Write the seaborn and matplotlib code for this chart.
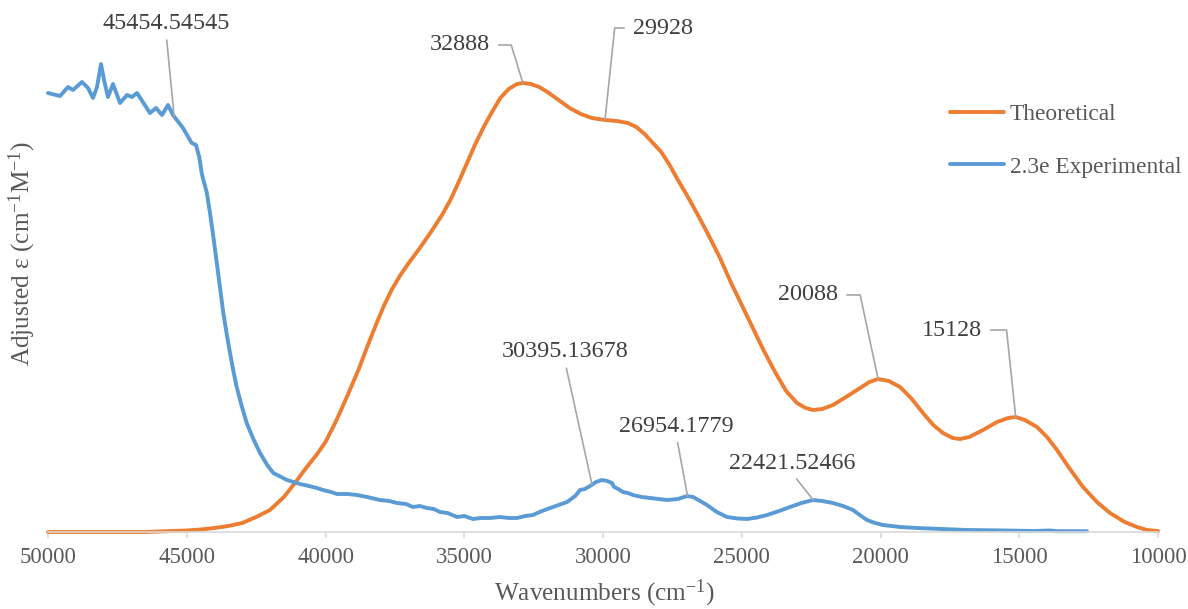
import numpy as np
import pandas as pd
import matplotlib
matplotlib.use("Agg")
import matplotlib.pyplot as plt
import seaborn as sns

# ---------------- data ----------------
theo_x = [50000, 48000, 46500, 45500, 45000, 44500, 44000, 43500, 43000, 42500,
          42000, 41500, 41100, 40700, 40300, 40000, 39600, 39200, 38800, 38500,
          38200, 37900, 37600, 37300, 37000, 36600, 36200, 35800, 35500, 35200,
          34900, 34600, 34300, 34000, 33700, 33400, 33100, 32888, 32600, 32300,
          32000, 31600, 31200, 30800, 30400, 29928, 29500, 29100, 28800, 28500,
          28200, 27900, 27600, 27300, 27000, 26600, 26200, 25800, 25400, 25000,
          24600, 24200, 23800, 23400, 23009, 22700, 22432, 22100, 21712, 21300,
          20847, 20400, 20088, 19700, 19297, 18900, 18468, 18100, 17748, 17400,
          17135, 16800, 16306, 15800, 15400, 15128, 14800, 14360, 14000, 13640,
          13200, 12703, 12200, 11730, 11200, 10757, 10400, 10000]
theo_y = [0, 0, 0, 1, 1.5, 2.5, 4, 6, 9, 15,
          22, 35, 49, 64, 78, 90, 112, 137, 163, 185,
          206, 226, 243, 257, 269, 284, 300, 317, 332, 350,
          369, 388, 405, 420, 434, 443, 448, 449, 448, 445,
          440, 432, 424, 418, 414, 412, 411, 409, 405, 398,
          389, 380, 367, 352, 338, 318, 297, 275, 250, 227,
          204, 181, 160, 141, 129, 124, 122, 123, 127, 134,
          142, 150, 153, 151, 145, 134, 119, 107, 99, 94,
          93, 95, 102, 110, 114, 115, 112, 105, 95, 82,
          64, 45, 30, 19, 10, 5, 2, 1]

exp_x = [50000, 49568, 49279, 49099, 48775, 48559, 48378, 48234, 48090, 47982,
         47838, 47658, 47405, 47153, 46973, 46793, 46324, 46108, 45892, 45676,
         45495, 45135, 44822, 44667, 44550, 44462, 44402, 44282, 44162, 44040,
         43922, 43800, 43682, 43560, 43441, 43320, 43201, 43020, 42840, 42600,
         42360, 42100, 41880, 41600, 41387, 41150, 40919, 40600, 40306, 40090,
         39800, 39586, 39200, 38865, 38500, 38036, 37700, 37423, 37100, 36847,
         36600, 36342, 36100, 35874, 35600, 35261, 35000, 34685, 34400, 34072,
         33712, 33400, 33099, 32800, 32523, 32200, 31910, 31600, 31297, 31000,
         30829, 30650, 30468, 30250, 30036, 29850, 29676, 29600, 29450, 29279,
         29100, 28919, 28600, 28306, 28000, 27694, 27300, 26973, 26757, 26500,
         26252, 25900, 25532, 25150, 24811, 24450, 24090, 23650, 23261, 22850,
         22432, 22100, 21712, 21350, 20991, 20700, 20486, 20200, 19910, 19600,
         19297, 18685, 17800, 16883, 15500, 14500, 13892, 13600, 12559]
exp_y = [439, 436, 445, 442, 450, 444, 434, 445, 468, 452,
         435, 448, 429, 437, 435, 439, 419, 424, 417, 427,
         417, 404, 389, 387, 375, 359, 352, 340, 319, 295,
         269, 244, 219, 198, 179, 161, 145, 126, 109, 93,
         79, 67, 59, 55, 52, 50, 48, 46, 44, 42,
         40, 38, 38, 37, 35, 32, 31, 29, 28, 25,
         26, 24, 23, 20, 19, 15, 16, 13, 14, 14,
         15, 14, 14, 16, 17, 21, 24, 27, 30, 36,
         42, 43, 46, 50, 52, 51, 49, 45, 43, 40,
         39, 37, 35, 34, 33, 32, 33, 36, 35, 31,
         27, 20, 15, 13.5, 13, 14.5, 17, 21, 25, 29,
         32, 31, 29, 26, 22, 16, 12, 9, 7, 6,
         5, 4, 3, 2, 1.5, 1, 1.5, 0.8, 0.8]

x_ticks = [50000, 45000, 40000, 35000, 30000, 25000, 20000, 15000, 10000]

theo_peaks = [32888, 29928, 20088, 15128]
theo_labels = ["32888", "29928", "20088", "15128"]
exp_peaks = [45454.54545, 30395.13678, 26954.1779, 22421.52466]
exp_labels = ["45454.54545", "30395.13678", "26954.1779", "22421.52466"]

# ---------------- style ----------------
sns.set_theme(style="white")
plt.rcParams["font.family"] = ["Liberation Serif", "DejaVu Serif"]
plt.rcParams["mathtext.fontset"] = "custom"
plt.rcParams["mathtext.rm"] = "Liberation Serif"
plt.rcParams["mathtext.it"] = "Liberation Serif:italic"
plt.rcParams["mathtext.bf"] = "Liberation Serif:bold"

ORANGE = "#ED7D31"
BLUE = "#5B9BD5"
TXT = "#595959"
LBL = "#404040"
LEAD = "#A6A6A6"
FS_TICK = 16.4
FS_ANN = 17.4
FS_LEG = 16.8
FS_AX = 18.2

W, H = 1188, 609
fig = plt.figure(figsize=(W / 100, H / 100), dpi=100)
ax = fig.add_axes([48 / W, 1 - 532 / H, 1110 / W, 520 / H])

df_t = pd.DataFrame({"x": theo_x, "y": theo_y})
df_e = pd.DataFrame({"x": exp_x, "y": exp_y})
sns.lineplot(data=df_t, x="x", y="y", ax=ax, color=ORANGE, lw=2.8,
             label="Theoretical", clip_on=False, solid_joinstyle="round")
sns.lineplot(data=df_e, x="x", y="y", ax=ax, color=BLUE, lw=2.8,
             label="2.3e Experimental", clip_on=False, solid_joinstyle="round")

ax.set_xlim(50000, 10000)
ax.set_ylim(0, 520)
ax.set_xticks(x_ticks)
ax.set_xticklabels([str(t) for t in x_ticks])
ax.set_yticks([])
for s in ["top", "left", "right"]:
    ax.spines[s].set_visible(False)
ax.spines["bottom"].set_color("#D9D9D9")
ax.spines["bottom"].set_linewidth(1.2)
ax.tick_params(axis="x", bottom=True, direction="out", length=4, width=1.2,
               color="#D9D9D9", labelsize=FS_TICK, labelcolor=TXT, pad=7)

ax.set_xlabel("Wavenumbers (cm$^{-1}$)", fontsize=FS_AX, color=TXT)
ax.xaxis.set_label_coords(0.501, -0.087)
ax.set_ylabel("Adjusted ε (cm$^{-1}$M$^{-1}$)", fontsize=FS_AX, color=TXT)
ax.yaxis.set_label_coords(-0.009, 0.535)

# ---------------- annotations ----------------
tx_r, ty_r = theo_x[::-1], theo_y[::-1]
ex_r, ey_r = exp_x[::-1], exp_y[::-1]

exp_offsets = [(-8, 93), (-27, 133), (-11, 70), (-21, 37)]
for xv, lab, off in zip(exp_peaks, exp_labels, exp_offsets):
    yv = np.interp(xv, ex_r, ey_r)
    ax.annotate(lab, xy=(xv, yv), xytext=off, textcoords="offset pixels",
                ha="center", va="center", fontsize=FS_ANN, color=LBL,
                arrowprops=dict(arrowstyle="-", color=LEAD, lw=1.2,
                                shrinkA=2, shrinkB=0, relpos=(0.5, 0.0),
                                connectionstyle="arc3"))

theo_offsets = [(-63, 38), (58, 92), (-70, 84), (-64, 87)]
theo_angles = [-73, 84, -78, -84]
theo_relpos = [(1.0, 0.5), (0.0, 0.5), (1.0, 0.5), (1.0, 0.5)]
for xv, lab, off, angB, rp in zip(theo_peaks, theo_labels, theo_offsets,
                                   theo_angles, theo_relpos):
    yv = np.interp(xv, tx_r, ty_r)
    ax.annotate(lab, xy=(xv, yv), xytext=off, textcoords="offset pixels",
                ha="center", va="center", fontsize=FS_ANN, color=LBL,
                arrowprops=dict(arrowstyle="-", color=LEAD, lw=1.2,
                                shrinkA=4, shrinkB=0, relpos=rp,
                                connectionstyle=f"angle,angleA=0,angleB={angB},rad=0"))

# ---------------- legend ----------------
ax.legend(loc="center left", bbox_to_anchor=(950 / W, 1 - 140.5 / H),
          bbox_transform=fig.transFigure, frameon=False, fontsize=FS_LEG,
          handlelength=2.3, handletextpad=0.25, labelspacing=1.35,
          borderpad=0, borderaxespad=0, labelcolor=TXT)

fig.savefig("out.png", dpi=100)
